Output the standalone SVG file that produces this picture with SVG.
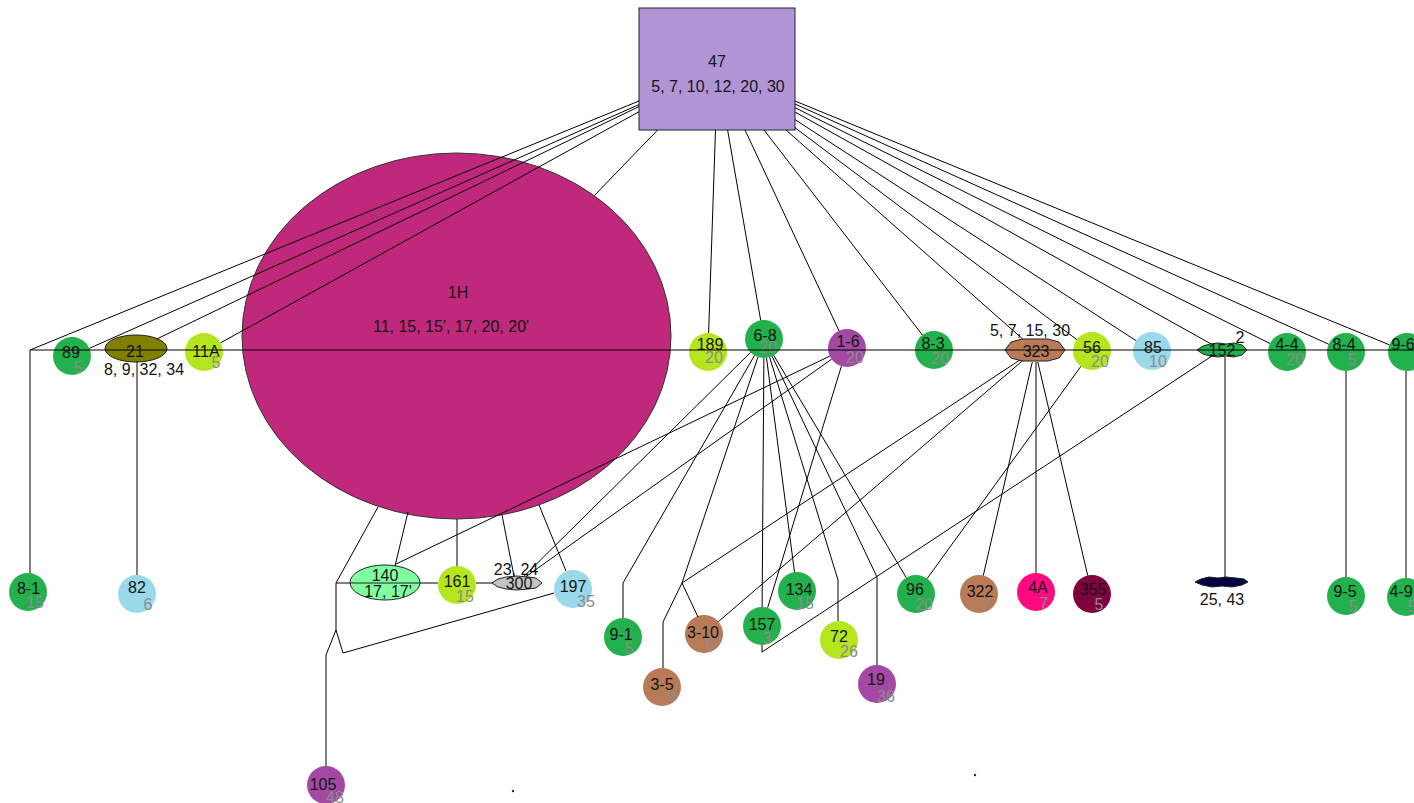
<svg xmlns="http://www.w3.org/2000/svg" width="1414" height="803" viewBox="0 0 1414 803">
<style>
text{font-family:"Liberation Sans",Arial,sans-serif;font-size:16px;fill:#141414;text-anchor:middle}
.s{fill:#8c8c8c}
.g{fill:#22b14c}.l{fill:#b5e61d}.b{fill:#99d9ea}.p{fill:#a349a4}.br{fill:#b97a57}
.e path,.e line{stroke:#000;stroke-width:1;fill:none}
.o{stroke:#222;stroke-width:1}
</style>
<rect width="1414" height="803" fill="#fff"/>
<g id="nodes">
<g id="n47"><rect x="639" y="8" width="156" height="122" fill="#b094d6" class="o"/><text x="717" y="67">47</text><text x="718" y="92">5, 7, 10, 12, 20, 30</text></g>
<g id="n1H"><ellipse cx="456.5" cy="336" rx="214.5" ry="183" fill="#c0297b" stroke="#333"/><text x="458" y="298">1H</text><text x="451" y="332">11, 15, 15', 17, 20, 20'</text></g>
<g id="n89"><circle cx="72" cy="356" r="19" class="g"/><text x="71" y="358">89</text><text x="78" y="373" class="s">5</text></g>
<g id="n21"><ellipse cx="136" cy="348.5" rx="31" ry="13.5" fill="#808000" class="o"/><text x="135" y="357">21</text><text x="144" y="375">8, 9, 32, 34</text></g>
<g id="n11A"><circle cx="204" cy="352" r="19" class="l"/><text x="206" y="357">11A</text><text x="216" y="368" class="s">5</text></g>
<g id="n189"><circle cx="708" cy="352" r="19" class="l"/><text x="710" y="350">189</text><text x="714" y="363" class="s">20</text></g>
<g id="n6-8"><circle cx="764" cy="339" r="19" class="g"/><text x="765" y="341">6-8</text><text x="768" y="353" class="s">20</text></g>
<g id="n1-6"><circle cx="847" cy="348" r="19" class="p"/><text x="848" y="347">1-6</text><text x="855" y="363" class="s">20</text></g>
<g id="n8-3"><circle cx="934" cy="350" r="19" class="g"/><text x="933" y="349">8-3</text><text x="940" y="364" class="s">20</text></g>
<g id="n323"><polygon points="1005,350 1011,342 1022,339 1048,339 1059,342 1065,350 1059,358 1048,361 1022,361 1011,358" class="br o"/><text x="1036" y="357">323</text><text x="1030" y="336">5, 7, 15, 30</text></g>
<g id="n56"><circle cx="1092" cy="351" r="19" class="l"/><text x="1092" y="353">56</text><text x="1100" y="367" class="s">20</text></g>
<g id="n85"><circle cx="1152" cy="351" r="19" class="b"/><text x="1153" y="353">85</text><text x="1158" y="367" class="s">10</text></g>
<g id="n152"><polygon points="1197,350 1203,346 1210,344 1218,343 1226,344 1234,343 1242,345 1247,350 1242,355 1234,357 1226,356 1218,357 1210,356 1203,354" class="g o"/><text x="1222" y="356">152</text><text x="1240" y="343">2</text></g>
<g id="n4-4"><circle cx="1287" cy="352" r="19" class="g"/><text x="1287" y="350">4-4</text><text x="1295" y="365" class="s">20</text></g>
<g id="n8-4"><circle cx="1346" cy="352" r="19" class="g"/><text x="1344" y="350">8-4</text><text x="1352" y="365" class="s">5</text></g>
<g id="n9-6"><circle cx="1407" cy="352" r="19" class="g"/><text x="1403" y="350">9-6</text></g>
<g id="n8-1"><circle cx="28" cy="592" r="19" class="g"/><text x="28.5" y="594">8-1</text><text x="35" y="608" class="s">15</text></g>
<g id="n82"><circle cx="137" cy="594" r="19" class="b"/><text x="137" y="593">82</text><text x="148" y="610" class="s">6</text></g>
<g id="n140"><ellipse cx="385" cy="582.5" rx="35" ry="17.5" fill="#80ffa0" class="o"/><line x1="350" y1="583" x2="420" y2="583" stroke="#222"/><text x="385" y="581">140</text><text x="388" y="597">17, 17'</text></g>
<g id="n161"><circle cx="457" cy="585" r="19" class="l"/><text x="457" y="587">161</text><text x="465" y="602" class="s">15</text></g>
<g id="n300"><polygon points="492,583 498,579 506,577 517,576 528,577 536,578 542,583 536,588 528,589 517,590 506,589 498,587" fill="#c3c3c3" class="o"/><text x="519" y="589">300</text><text x="516" y="575">23, 24</text></g>
<g id="n197"><circle cx="573" cy="589" r="19" class="b"/><text x="573" y="592">197</text><text x="586" y="607" class="s">35</text></g>
<g id="n9-1"><circle cx="623" cy="637" r="19" class="g"/><text x="621" y="640">9-1</text><text x="629" y="654" class="s">5</text></g>
<g id="n3-10"><circle cx="704" cy="634" r="19" class="br"/><text x="703" y="638">3-10</text><text x="711" y="650" class="s">5</text></g>
<g id="n3-5"><circle cx="662" cy="687" r="19" class="br"/><text x="662" y="690">3-5</text><text x="672" y="702" class="s">9</text></g>
<g id="n134"><circle cx="797" cy="591" r="19" class="g"/><text x="799" y="595">134</text><text x="805" y="609" class="s">15</text></g>
<g id="n157"><circle cx="762" cy="626" r="19" class="g"/><text x="762" y="630">157</text><text x="767" y="644" class="s">3</text></g>
<g id="n72"><circle cx="839" cy="640" r="19" class="l"/><text x="839" y="642">72</text><text x="849" y="657" class="s">26</text></g>
<g id="n19"><circle cx="877" cy="684" r="19" class="p"/><text x="876" y="685">19</text><text x="886" y="702" class="s">36</text></g>
<g id="n96"><circle cx="916" cy="594" r="19" class="g"/><text x="915" y="595">96</text><text x="924" y="610" class="s">20</text></g>
<g id="n322"><circle cx="979" cy="594" r="19" class="br"/><text x="980" y="597">322</text><text x="986" y="612" class="s">7</text></g>
<g id="n4A"><circle cx="1036" cy="592" r="19" fill="#ff0a80"/><text x="1038" y="593">4A</text><text x="1044" y="609" class="s">7</text></g>
<g id="n355"><circle cx="1092" cy="594" r="19" fill="#80003f"/><text x="1093" y="595">355</text><text x="1099" y="610" class="s">5</text></g>
<g id="nBlob"><polygon points="1195,582 1201,579 1209,577 1218,578 1226,577 1236,578 1244,579 1248,582 1242,585 1232,587 1222,586 1212,587 1202,585" fill="#000040" class="o"/><text x="1222" y="605">25, 43</text></g>
<g id="n9-5"><circle cx="1346" cy="596" r="19" class="g"/><text x="1345" y="597">9-5</text><text x="1353" y="612" class="s">5</text></g>
<g id="n4-9"><circle cx="1406" cy="597" r="19" class="g"/><text x="1401" y="597">4-9</text><text x="1412" y="612" class="s">5</text></g>
<g id="n105"><circle cx="326" cy="785" r="19" class="p"/><text x="323" y="790">105</text><text x="335" y="803" class="s">48</text></g>
<g id="dots"><circle cx="513" cy="791" r="1.2" fill="#333"/><circle cx="975" cy="775" r="1.2" fill="#333"/></g>
</g>
<g id="connectors" class="e">
<path d="M639,101 L30,350 L30,573"/>
<path d="M639,104.6 L89.4,348.3"/>
<path d="M639,106.6 L156.8,339"/>
<path d="M639,111.7 L220.6,342.8"/>
<path d="M657.6,130 L594.6,195.3"/>
<path d="M715.5,130 L708.6,333"/>
<path d="M727.6,130 L760.7,320.3"/>
<path d="M745,130 L839,330.8"/>
<path d="M764,130 L922.4,335"/>
<path d="M786,130 L1022.6,339"/>
<path d="M795,127.7 L1076.8,339.6"/>
<path d="M795,119.6 L1136.1,340.7"/>
<path d="M795,112 L1210.9,343.8"/>
<path d="M795,107.7 L1270,343.5"/>
<path d="M795,104 L1328.7,344.2"/>
<path d="M795,101 L1389.4,344.8"/>
<path d="M30,350 H1414"/>
<path d="M137,362 V575"/>
<path d="M1225,357 V577"/>
<path d="M1346,371 V577"/>
<path d="M1406,371 V578"/>
<path d="M378,507 L336,583"/>
<path d="M336,583 H350 M420,583 H438 M476,583 H492"/>
<path d="M336,583 V630 L326,655 V766"/>
<path d="M554,593 L343,653 L336,630"/>
<path d="M408,512 L395,566"/>
<path d="M457,519 V566"/>
<path d="M502,515 L514,576"/>
<path d="M539,505 L566,571"/>
<path d="M829.8,356.1 L396,564"/>
<path d="M831.6,359.2 L526,576.5"/>
<path d="M841.4,366.2 L767.6,607.8"/>
<path d="M750.6,352.4 L524,576.3"/>
<path d="M754.5,355.5 L623,583 V618"/>
<path d="M758,357 L682,583 L698,617"/>
<path d="M1019.4,360.3 L682,583 L663,622 V668"/>
<path d="M1022.3,360.9 L718.4,621.6"/>
<path d="M763.9,358 L762.1,607"/>
<path d="M1212,356 L762,652 V645"/>
<path d="M766.5,357.8 L794.5,572.2"/>
<path d="M769.6,357.2 L838,580 V621"/>
<path d="M772.1,356.2 L877,577 V665"/>
<path d="M773.7,355.3 L906.3,577.7"/>
<path d="M1080.9,366.4 L927.1,578.6"/>
<path d="M1032.3,362 L983.3,575.5"/>
<path d="M1036,362 V573"/>
<path d="M1037.8,362 L1087.7,575.5"/>
</g>
</svg>
